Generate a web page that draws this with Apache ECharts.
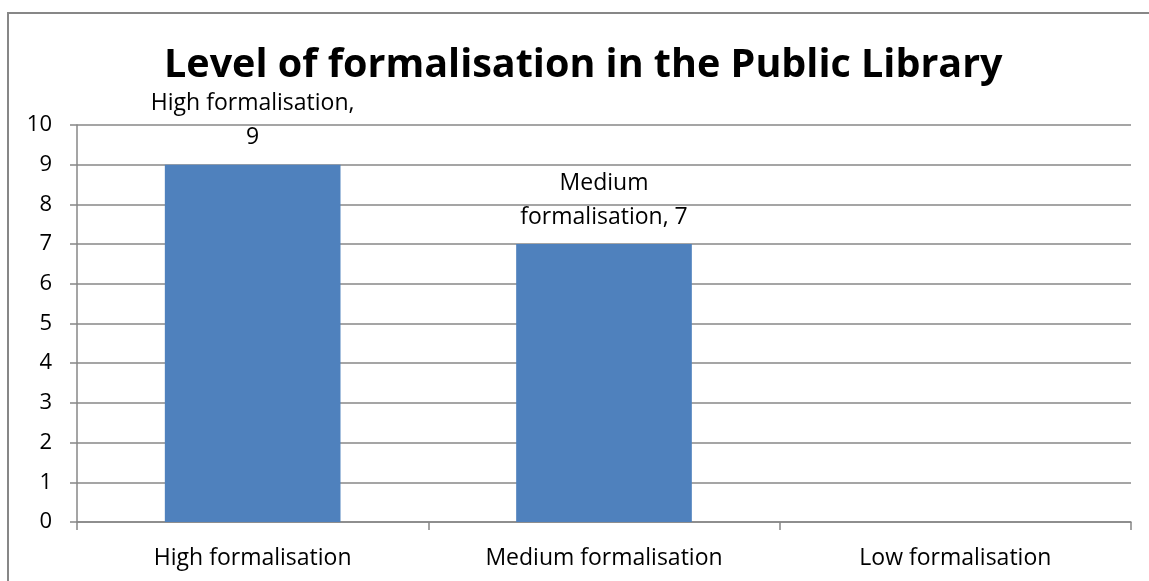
<!DOCTYPE html>
<html>
<head>
<meta charset="utf-8">
<script src="https://cdn.jsdelivr.net/npm/echarts@6/dist/echarts.min.js"></script>
<style>
  html, body { margin: 0; padding: 0; background: #ffffff; overflow: hidden; }
  #chart { width: 1149px; height: 581px; }
</style>
</head>
<body>
<div id="chart"></div>
<script>
// Formalisation levels and the number of responses for each
const categories = ['High formalisation', 'Medium formalisation', 'Low formalisation'];
const counts = [9, 7, null];
const yTicks = { min: 0, max: 10, interval: 1 };

const FONT = '"Open Sans", "Noto Sans", sans-serif';
const GREY = '#878787';

const chart = echarts.init(document.getElementById('chart'), null, { renderer: 'canvas' });

chart.setOption({
  animation: false,
  backgroundColor: '#ffffff',
  title: {
    text: 'Level of formalisation in the Public Library',
    left: 159,
    top: 41,
    textStyle: { fontFamily: FONT, fontWeight: 'bold', fontSize: 39.5, color: '#000000' }
  },
  // chart-area frame: left and top edges only, the rest runs off the page
  graphic: [
    { type: 'line', shape: { x1: 8, y1: 13, x2: 8, y2: 581 }, style: { stroke: GREY, lineWidth: 2 }, silent: true },
    { type: 'line', shape: { x1: 7, y1: 13, x2: 1149, y2: 13 }, style: { stroke: GREY, lineWidth: 2 }, silent: true }
  ],
  grid: { left: 77, right: 18, top: 125, bottom: 59, containLabel: false },
  xAxis: {
    type: 'category',
    data: categories,
    axisLine: { lineStyle: { color: GREY, width: 1.5 } },
    axisTick: { show: true, alignWithLabel: false, length: 8, lineStyle: { color: GREY, width: 1.5 } },
    axisLabel: { fontFamily: FONT, fontSize: 23, color: '#000000', margin: 25 }
  },
  yAxis: {
    type: 'value',
    min: yTicks.min,
    max: yTicks.max,
    interval: yTicks.interval,
    axisLine: { show: true, lineStyle: { color: GREY, width: 1.5 } },
    axisTick: { show: true, length: 7, lineStyle: { color: GREY, width: 1.5 } },
    splitLine: { show: true, lineStyle: { color: GREY, width: 1.5 } },
    axisLabel: { fontFamily: FONT, fontSize: 22, color: '#000000', margin: 25 }
  },
  series: [{
    type: 'bar',
    data: counts,
    barCategoryGap: '50%',
    itemStyle: { color: '#4F81BD' },
    label: {
      show: true,
      position: 'top',
      distance: 10,
      fontFamily: FONT,
      fontSize: 23,
      color: '#000000',
      lineHeight: 34,
      align: 'center',
      formatter: function (p) {
        if (p.value == null) return '';
        return p.dataIndex === 0
          ? p.name.replace(' formalisation', ' formalisation,') + '\n' + p.value
          : p.name.replace(' ', '\n') + ', ' + p.value;
      }
    }
  }]
});
</script>
</body>
</html>
